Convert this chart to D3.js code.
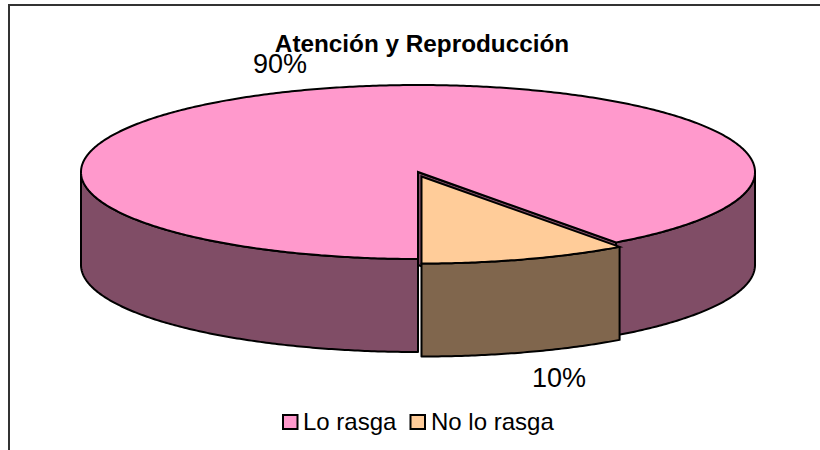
<!DOCTYPE html>
<html><head><meta charset="utf-8">
<script src="https://cdn.jsdelivr.net/npm/d3@7"></script>
<style>html,body{margin:0;background:#fff}svg{display:block}text{font-family:"Liberation Sans",Arial,sans-serif;fill:#000}</style>
</head><body><svg id="c" width="820" height="450"></svg>
<script>
const categories = ["Lo rasga","No lo rasga"];
const values = [90,10];
const labels = ["90%","10%"];
const topColors = ["#FF99CC","#FFCC99"];
const sideColors = ["#804D66","#80664D"];
const titleText = "Atención y Reproducción";

const svg = d3.select("#c");
const cx=418, cy=172, rx=337, ry=87, depth=93;
const ex=3.5, ey=4.5; // explosion offset of the small slice
const sw=2;

svg.append("path").attr("d","M9,450V5H820").attr("fill","none").attr("stroke","#333").attr("stroke-width",2);

const pie=d3.pie().sort(null).value(d=>d).startAngle(Math.PI).endAngle(3*Math.PI);
const arcs=pie(values);
const px=(a,ox=0)=>cx+ox+rx*Math.sin(a);
const py=(a,oy=0)=>cy+oy-ry*Math.cos(a);
const line=d3.line();
function arcPts(a0,a1,ox,oy,dy){
  const n=Math.max(2,Math.ceil(Math.abs(a1-a0)/0.01));
  return d3.range(n+1).map(i=>{const a=a0+(a1-a0)*i/n;return [px(a,ox),py(a,oy)+dy];});
}
function outerWall(a0,a1,ox,oy,fill){
  const top=arcPts(a0,a1,ox,oy,0), bot=arcPts(a1,a0,ox,oy,depth);
  svg.append("path").attr("d",line(top.concat(bot))+"Z").attr("fill",fill).attr("stroke","#000").attr("stroke-width",sw).attr("stroke-linejoin","round");
}
function topFace(a0,a1,ox,oy,fill){
  const pts=[[cx+ox,cy+oy]].concat(arcPts(a0,a1,ox,oy,0));
  svg.append("path").attr("d",line(pts)+"Z").attr("fill",fill).attr("stroke","#000").attr("stroke-width",sw).attr("stroke-linejoin","miter");
}
const big=arcs[0], small=arcs[1];
const be=big.endAngle, bs=big.startAngle;
// inner wall of the large slice, visible through the gap
svg.append("path").attr("d",line([[cx,cy],[px(be),py(be)],[px(be),py(be)+depth],[cx,cy+depth]])+"Z")
  .attr("fill",sideColors[0]).attr("stroke","#000").attr("stroke-width",sw);
// outer walls on the front half of the large slice
outerWall(bs,1.5*Math.PI,0,0,sideColors[0]);
outerWall(2.5*Math.PI,be,0,0,sideColors[0]);
topFace(bs,be,0,0,topColors[0]);
// exploded small slice
outerWall(small.startAngle,small.endAngle,ex,ey,sideColors[1]);
topFace(small.startAngle,small.endAngle,ex,ey,topColors[1]);

svg.append("text").attr("x",422).attr("y",52).attr("text-anchor","middle").attr("font-weight","bold").attr("font-size",24.3).text(titleText);
svg.append("text").attr("x",253).attr("y",73).attr("font-size",27).text(labels[0]);
svg.append("text").attr("x",532).attr("y",387).attr("font-size",27).text(labels[1]);

const leg=[{x:283,tx:303},{x:410.5,tx:431}];
categories.forEach((c,i)=>{
  svg.append("rect").attr("x",leg[i].x).attr("y",415).attr("width",14.5).attr("height",14).attr("fill",topColors[i]).attr("stroke","#000").attr("stroke-width",sw);
  svg.append("text").attr("x",leg[i].tx).attr("y",430).attr("font-size",24).text(c);
});
</script></body></html>
